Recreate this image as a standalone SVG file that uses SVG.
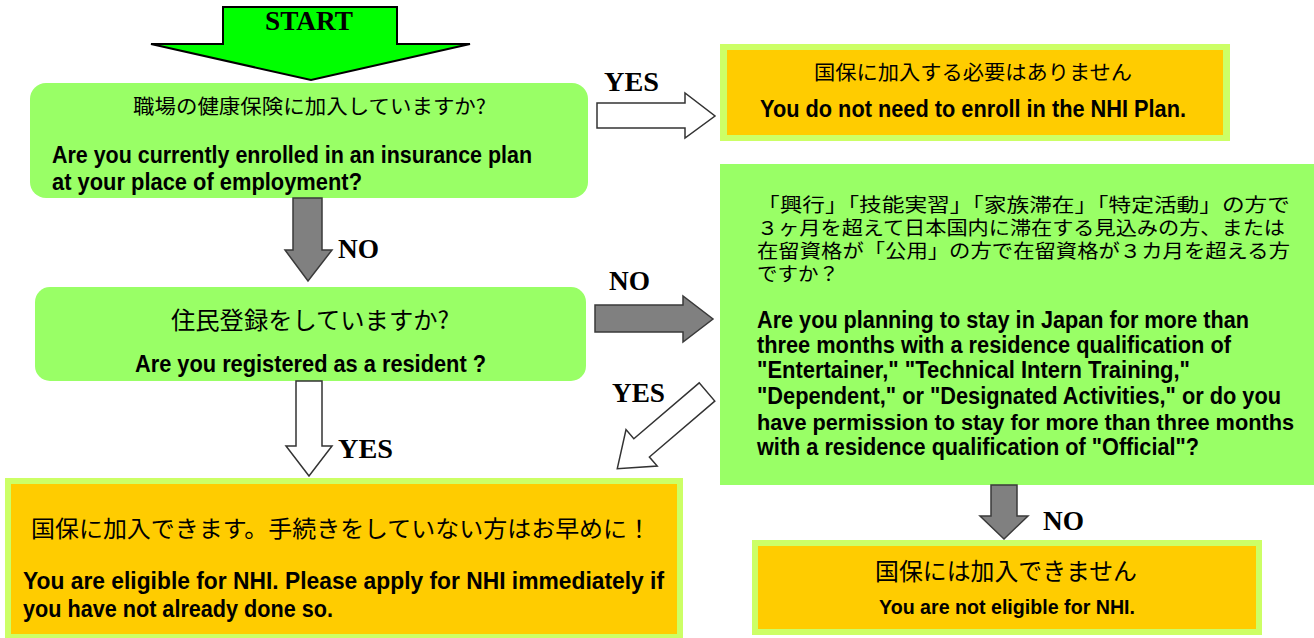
<svg xmlns="http://www.w3.org/2000/svg" width="1314" height="638" viewBox="0 0 1314 638">
<style>
.q{fill:#99FF66}
.outer{fill:#CCFF66}
.inner{fill:#FFCC00}
.jp{font-family:"Noto Sans CJK JP","Liberation Sans",sans-serif;fill:#000}
.en{font-family:"Liberation Sans",Arial,sans-serif;font-weight:bold;fill:#000}
.lbl{font-family:"Liberation Serif","Times New Roman",serif;font-weight:bold;fill:#000}
.gray{fill:#808080;stroke:#3a3a3a;stroke-width:1.5}
.hollow{fill:#fff;stroke:#333;stroke-width:1.5}
</style>
<rect width="1314" height="638" fill="#fff"/>

<g id="start">
<polygon points="223,7 397,7 397,44 470,44 311,80 151,44 223,44" fill="#00FF00" stroke="#000" stroke-width="2"/>
<text class="lbl" x="265" y="30" font-size="27" textLength="88" lengthAdjust="spacingAndGlyphs">START</text>
</g>

<g id="q1">
<rect class="q" x="30" y="83" width="558" height="115" rx="16"/>
<text class="jp" x="133" y="114" font-size="20" textLength="353" lengthAdjust="spacingAndGlyphs">職場の健康保険に加入していますか?</text>
<text class="en" x="52" y="163" font-size="24" textLength="480" lengthAdjust="spacingAndGlyphs">Are you currently enrolled in an insurance plan</text>
<text class="en" x="52" y="190" font-size="24" textLength="310" lengthAdjust="spacingAndGlyphs">at your place of employment?</text>
</g>

<g id="r1">
<rect class="outer" x="720" y="44" width="510" height="97"/>
<rect class="inner" x="727" y="50" width="496" height="85"/>
<text class="jp" x="814" y="80" font-size="20" textLength="318" lengthAdjust="spacingAndGlyphs">国保に加入する必要はありません</text>
<text class="en" x="760" y="117" font-size="23" textLength="426" lengthAdjust="spacingAndGlyphs">You do not need to enroll in the NHI Plan.</text>
</g>

<g id="q2">
<rect class="q" x="35" y="287" width="551" height="94" rx="15"/>
<text class="jp" x="171" y="329" font-size="24" textLength="278" lengthAdjust="spacingAndGlyphs">住民登録をしていますか?</text>
<text class="en" x="135" y="372" font-size="23" textLength="351" lengthAdjust="spacingAndGlyphs">Are you registered as a resident ?</text>
</g>

<g id="q3">
<rect class="q" x="720" y="164" width="594" height="321"/>
<text class="jp" font-size="19" lengthAdjust="spacingAndGlyphs"><tspan x="757" y="212" textLength="533" lengthAdjust="spacingAndGlyphs">「興行」「技能実習」「家族滞在」「特定活動」の方で</tspan><tspan x="757" y="235" textLength="528" lengthAdjust="spacingAndGlyphs">３ヶ月を超えて日本国内に滞在する見込みの方、または</tspan><tspan x="757" y="258" textLength="533" lengthAdjust="spacingAndGlyphs">在留資格が「公用」の方で在留資格が３カ月を超える方</tspan><tspan x="757" y="281" textLength="82" lengthAdjust="spacingAndGlyphs">ですか？</tspan></text>
<text class="en" x="757" y="328" font-size="23" textLength="492" lengthAdjust="spacingAndGlyphs">Are you planning to stay in Japan for more than</text>
<text class="en" x="757" y="353" font-size="23" textLength="474" lengthAdjust="spacingAndGlyphs">three months with a residence qualification of</text>
<text class="en" x="757" y="378" font-size="23" textLength="433" lengthAdjust="spacingAndGlyphs">"Entertainer," "Technical Intern Training,"</text>
<text class="en" x="757" y="404" font-size="23" textLength="524" lengthAdjust="spacingAndGlyphs">"Dependent," or "Designated Activities," or do you</text>
<text class="en" x="757" y="430" font-size="22" textLength="537" lengthAdjust="spacingAndGlyphs">have permission to stay for more than three months</text>
<text class="en" x="757" y="455" font-size="23" textLength="442" lengthAdjust="spacingAndGlyphs">with a residence qualification of "Official"?</text>
</g>

<g id="r2">
<rect class="outer" x="5" y="478" width="678" height="162"/>
<rect class="inner" x="11" y="484" width="666" height="150"/>
<text class="jp" x="31" y="537" font-size="23" textLength="620" lengthAdjust="spacingAndGlyphs">国保に加入できます。手続きをしていない方はお早めに！</text>
<text class="en" x="23" y="589" font-size="24" textLength="641" lengthAdjust="spacingAndGlyphs">You are eligible for NHI. Please apply for NHI immediately if</text>
<text class="en" x="23" y="617" font-size="24" textLength="310" lengthAdjust="spacingAndGlyphs">you have not already done so.</text>
</g>

<g id="r3">
<rect class="outer" x="752" y="540" width="510" height="95"/>
<rect class="inner" x="758" y="546" width="498" height="83"/>
<text class="jp" x="875" y="580" font-size="24" textLength="262" lengthAdjust="spacingAndGlyphs">国保には加入できません</text>
<text class="en" x="879" y="614" font-size="20" textLength="256" lengthAdjust="spacingAndGlyphs">You are not eligible for NHI.</text>
</g>

<g id="connectors">
<polygon class="hollow" points="597,103 685,103 685,93 715,116 685,138 685,128 597,128"/>
<text class="lbl" x="604" y="91" font-size="27" textLength="55" lengthAdjust="spacingAndGlyphs">YES</text>

<polygon class="gray" points="293,198 322,198 322,250 332,250 308,281 285,250 293,250"/>
<text class="lbl" x="338" y="258" font-size="27" textLength="41" lengthAdjust="spacingAndGlyphs">NO</text>

<polygon class="gray" points="595,305 683,305 683,296 713,319 683,342 683,332 595,332"/>
<text class="lbl" x="609" y="290" font-size="27" textLength="41" lengthAdjust="spacingAndGlyphs">NO</text>

<polygon class="hollow" points="296,381 322,381 322,446 332,446 309,476 286,446 296,446"/>
<text class="lbl" x="338" y="458" font-size="27" textLength="55" lengthAdjust="spacingAndGlyphs">YES</text>

<polygon class="hollow" transform="translate(707,392) rotate(139.5)" points="0,-12 86,-12 86,-24 118,0 86,24 86,12 0,12"/>
<text class="lbl" x="612" y="402" font-size="27" textLength="53" lengthAdjust="spacingAndGlyphs">YES</text>

<polygon class="gray" points="991,485 1017,485 1017,516 1028,516 1004,539 980,516 991,516"/>
<text class="lbl" x="1043" y="530" font-size="27" textLength="41" lengthAdjust="spacingAndGlyphs">NO</text>
</g>
</svg>
